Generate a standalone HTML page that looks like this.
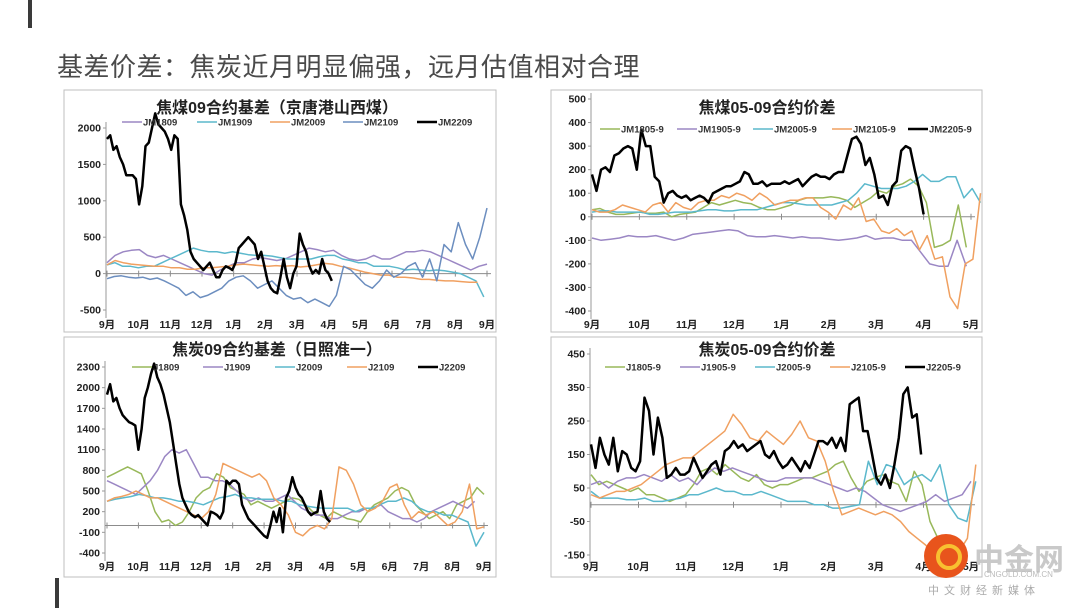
<!DOCTYPE html>
<html><head><meta charset="utf-8">
<style>
html,body{margin:0;padding:0;background:#fff;}
body{width:1080px;height:608px;position:relative;overflow:hidden;font-family:"Liberation Sans","Noto Sans CJK SC",sans-serif;}
#title{position:absolute;left:57px;top:47px;font-size:26px;color:#4a4a4a;letter-spacing:0.5px;white-space:nowrap;}
</style></head><body>
<div style="position:absolute;left:28px;top:0;width:4px;height:28px;background:#3a3a3a"></div>
<div style="position:absolute;left:55px;top:578px;width:4px;height:30px;background:#3a3a3a"></div>
<div id="title">基差价差：焦炭近月明显偏强，远月估值相对合理</div>
<svg id="svg" width="1080" height="608" style="position:absolute;left:0;top:0"></svg>
<div style="position:absolute;left:922px;top:532px;width:158px;height:76px;">
 <div style="position:absolute;left:2px;top:2px;width:44px;height:44px;border-radius:50%;background:#e8541c;"></div>
 <div style="position:absolute;left:14px;top:12px;width:18px;height:18px;border-radius:50%;border:4px solid #f8c030;"></div>
 <div style="position:absolute;left:52px;top:3px;font-size:30px;font-weight:bold;color:#c9c9c9;">中金网</div>
 <div style="position:absolute;left:62px;top:38px;font-size:8px;color:#bbb;">CNGOLD.COM.CN</div>
 <div style="position:absolute;left:6px;top:50px;font-size:11px;color:#aaa;letter-spacing:5px;">中文财经新媒体</div>
</div>
<script>
// ---- Chart 1 data: 焦煤09合约基差 ----
const c1Months=['9月','10月','11月','12月','1月','2月','3月','4月','5月','6月','7月','8月','9月'];
const c1Ticks=[-500,0,500,1000,1500,2000];
const c1Names=['JM1809','JM1909','JM2009','JM2109','JM2209'];
const c1Span=[[0,12],[0,11.9],[0,11.7],[0,12],[0,7.1]];
const c1JM1809=[150,250,300,320,330,250,220,250,200,150,100,50,0,-20,50,100,150,150,200,220,200,180,200,250,300,350,330,300,320,250,200,180,200,250,200,200,250,300,300,320,300,250,200,150,100,50,100,130];
const c1JM1909=[120,150,100,100,80,100,100,150,200,250,300,350,320,300,300,280,300,280,260,250,250,240,220,200,200,200,200,230,250,250,200,180,150,150,100,100,100,80,50,60,50,40,50,40,20,0,-50,-100,-320];
const c1JM2009=[120,180,150,130,120,110,100,100,80,80,60,60,80,80,90,100,120,130,120,110,100,110,100,110,90,100,120,140,130,100,80,50,20,0,-20,-20,-50,-50,-60,-80,-80,-90,-100,-100,-110,-120,-120];
const c1JM2109=[-70,-40,-30,-50,-60,-50,-80,-60,-100,-150,-200,-300,-250,-330,-300,-250,-200,-100,-50,-30,-100,-200,-150,-100,-200,-300,-350,-330,-400,-350,-400,-450,-300,100,50,-50,-150,-200,-100,50,-50,0,100,150,-50,200,-100,400,300,700,400,200,500,900];
const c1JM2209=[1850,1900,1700,1750,1600,1500,1350,1350,1350,1300,950,1200,1750,1800,2000,2200,2050,2000,1950,1850,1700,1900,1850,950,800,600,300,200,150,100,50,100,150,50,-50,-50,50,100,80,50,150,350,400,450,500,450,400,200,300,100,-100,-200,-250,-270,-50,200,-50,-200,0,100,550,400,300,100,0,50,0,200,50,0,-100];
// ---- Chart 2 data: 焦煤05-09合约价差 ----
const c2Months=['9月','10月','11月','12月','1月','2月','3月','4月','5月'];
const c2Ticks=[-400,-300,-200,-100,0,100,200,300,400,500];
const c2Names=['JM1805-9','JM1905-9','JM2005-9','JM2105-9','JM2205-9'];
const c2Span=[[0,7.9],[0,7.9],[0,8.2],[0,8.2],[0,7.0]];
const c2JM1805=[30,35,20,10,10,15,20,15,15,20,0,10,15,20,40,60,50,60,70,60,55,40,30,30,40,50,70,80,80,80,85,80,70,40,60,80,110,100,130,140,160,130,60,-130,-120,-100,50,-130];
const c2JM1905=[-90,-100,-95,-90,-80,-85,-85,-80,-90,-100,-90,-75,-70,-65,-60,-55,-60,-80,-85,-85,-80,-85,-90,-85,-90,-90,-95,-100,-95,-90,-80,-95,-90,-90,-100,-100,-150,-200,-210,-210,-100,-210];
const c2JM2005=[20,25,25,20,20,20,20,10,10,15,20,20,20,25,30,30,25,25,30,30,30,40,50,60,60,55,50,50,50,50,60,70,100,140,130,120,120,120,130,150,180,150,150,170,170,80,120,60];
const c2JM2105=[30,20,20,30,50,40,30,20,50,60,20,60,40,30,60,70,70,90,80,100,90,70,100,80,50,60,70,70,80,80,40,20,-10,50,30,80,-20,-10,-60,-70,-50,-80,-60,-140,-80,-180,-170,-340,-390,-200,-180,100];
const c2JM2205=[180,110,200,210,190,260,270,290,300,290,200,370,300,300,170,150,60,100,110,90,80,90,70,80,90,80,60,100,110,120,130,130,140,150,190,180,140,140,150,130,140,140,140,150,140,150,160,130,150,170,180,170,170,160,180,190,190,260,330,340,310,220,250,180,80,90,50,130,150,280,300,290,200,120,10];
// ---- Chart 3 data: 焦炭09合约基差 ----
const c3Months=c1Months;
const c3Ticks=[-400,-100,200,500,800,1100,1400,1700,2000,2300];
const c3Names=['J1809','J1909','J2009','J2109','J2209'];
const c3Span=[[0,12],[0,11.7],[0,12],[0,12],[0,7.1]];
const c3J1809=[700,750,800,850,800,750,500,200,50,80,0,50,200,400,500,550,750,700,550,500,450,300,350,300,250,300,350,400,380,300,200,150,100,200,150,100,80,50,200,300,350,400,500,550,500,300,200,100,150,200,100,300,350,400,550,450];
const c3J1909=[650,600,550,500,450,550,650,800,1000,1100,1050,1100,900,700,700,650,650,600,500,400,350,400,350,350,400,450,350,250,200,150,150,100,100,150,200,200,250,250,300,200,150,100,100,50,100,200,250,300,350,300,250,350];
const c3J2009=[350,380,400,420,450,430,400,400,380,350,350,330,300,350,400,420,450,400,400,380,380,380,350,350,300,280,260,250,250,250,250,200,250,250,300,350,350,400,350,250,200,200,150,150,100,50,-300,-100];
const c3J2109=[350,400,420,450,500,450,400,400,350,300,250,200,150,100,200,450,900,850,800,750,700,750,650,400,300,150,-100,-150,-50,0,-50,100,850,800,600,300,200,250,350,550,600,300,100,200,150,200,100,0,50,200,600,-50,-20];
const c3J2209=[1900,2050,1800,1850,1700,1600,1550,1500,1480,1450,1100,1400,1850,2000,2200,2350,2150,2050,1900,1700,1500,1200,900,600,400,300,200,150,120,150,100,50,0,200,180,150,100,200,650,600,650,650,600,300,200,100,50,0,-50,-100,-150,-180,0,200,50,250,-100,400,500,700,550,450,400,300,200,150,180,200,500,200,100,50];
// ---- Chart 4 data: 焦炭05-09合约价差 ----
const c4Months=c2Months;
const c4Ticks=[-150,-50,50,150,250,350,450];
const c4Names=['J1805-9','J1905-9','J2005-9','J2105-9','J2205-9'];
const c4Span=[[0,7.8],[0,8.0],[0,8.1],[0,8.1],[0,6.95]];
const c4J1805=[90,60,70,60,50,40,50,30,30,20,10,20,30,60,100,110,90,120,100,80,70,90,60,50,60,60,70,80,80,90,100,120,130,80,40,70,80,90,70,60,10,100,60,-50,-100,-120,-130,-150];
const c4J1905=[60,70,50,70,80,80,90,80,70,90,70,80,60,90,110,100,110,100,90,80,70,70,80,80,80,80,70,60,50,40,50,40,20,0,-10,-20,-10,0,10,30,10,20,30,70];
const c4J2005=[40,20,20,20,15,15,20,10,10,15,20,30,30,40,50,40,40,30,30,40,30,20,10,10,10,0,0,-10,-10,-5,0,130,60,120,110,60,80,90,70,120,0,-40,-50,70];
const c4J2105=[30,20,30,40,40,50,60,80,100,120,130,140,140,160,180,200,220,270,240,200,190,220,200,180,210,250,200,190,130,40,-30,-20,-10,-20,-30,-20,-30,-50,-80,-100,-120,-150,-130,-100,-140,-100,120];
const c4J2205=[180,110,200,150,120,200,100,160,150,110,100,130,320,280,150,260,200,80,90,110,90,90,100,140,110,80,100,120,130,90,160,170,190,170,180,160,170,180,190,150,140,160,130,110,120,140,120,100,130,110,150,190,190,180,200,170,200,160,300,310,320,220,220,150,80,60,90,50,120,200,330,350,260,270,150];

const NS='http://www.w3.org/2000/svg';
const svg=document.getElementById('svg');
function mk(tag,attrs,parent){const e=document.createElementNS(NS,tag);for(const k in attrs)e.setAttribute(k,attrs[k]);(parent||svg).appendChild(e);return e;}

function chart(cfg){
  const g=mk('g',{});
  
  
  const box=mk('rect',{x:cfg.box[0],y:cfg.box[1],width:cfg.box[2],height:cfg.box[3],fill:'#fff',stroke:'#bfbfbf','stroke-width':1},g);
  
  
  const yMin=cfg.ticks[0],yMax=cfg.ticks[cfg.ticks.length-1];
  const ys=v=>cfg.yTop+(yMax-v)/(yMax-yMin)*(cfg.yBot-cfg.yTop);
  const nM=cfg.months.length-1;
  const xs=m=>cfg.x0+m/nM*(cfg.x1-cfg.x0);
  const ya=mk('line',{x1:cfg.ax,y1:cfg.yTop-6,x2:cfg.ax,y2:cfg.yBot+8,stroke:'#9a9a9a','stroke-width':1},g);
  
  
  cfg.ticks.forEach(t=>{
    mk('line',{x1:cfg.ax-3,y1:ys(t),x2:cfg.ax,y2:ys(t),stroke:'#9a9a9a'},g);
    const tx=mk('text',{x:cfg.ax-5,y:ys(t)+3.5,'text-anchor':'end','font-size':10.5,'font-weight':'bold',fill:'#222'},g);
    tx.textContent=t;
    
    
  });
  const z=mk('line',{x1:cfg.ax,y1:ys(0),x2:cfg.x1+4,y2:ys(0),stroke:'#8c8c8c','stroke-width':1},g);
  
  
  cfg.months.forEach((m,i)=>{
    mk('line',{x1:xs(i),y1:ys(0)-3,x2:xs(i),y2:ys(0)+3,stroke:'#8c8c8c'},g);
    const tx=mk('text',{x:xs(i),y:cfg.labY,'text-anchor':'middle','font-size':10.5,'font-weight':'bold',fill:'#222'},g);
    tx.textContent=m;
    
    
  });
  cfg.series.forEach((s,i)=>{
    const sp=cfg.spans[i];
    const pts=s.map((v,j)=>xs(sp[0]+j/(s.length-1)*(sp[1]-sp[0])).toFixed(1)+','+ys(v).toFixed(1)).join(' ');
    const black=i===4;
    const pl=mk('polyline',{points:pts,fill:'none',stroke:cfg.colors[i],'stroke-width':black?2.5:1.5,'stroke-linejoin':'round'},g);
    
    
  });
  const tt=mk('text',{x:cfg.titleX,y:cfg.titleY,'text-anchor':'middle','font-size':16,'font-weight':'bold',fill:'#222'},g);
  tt.textContent=cfg.title;
  
  
  cfg.names.forEach((n,i)=>{
    const lx=cfg.legX[i];
    const lg=mk('g',{},g);
    
    
    mk('line',{x1:lx,y1:cfg.legY,x2:lx+20,y2:cfg.legY,stroke:cfg.colors[i],'stroke-width':i===4?2.5:1.5},lg);
    const t=mk('text',{x:lx+21,y:cfg.legY+3.5,'font-size':9.5,'font-weight':'bold',fill:'#333'},lg);
    t.textContent=n;
  });
}
const colA=['#9b87c4','#5bb8cc','#f0a060','#6c8ebf','#000'];
const colB=['#98b85a','#9b87c4','#5bb8cc','#f0a060','#000'];
chart({id:'chart-coking-coal-basis',box:[64,90,432,242],ticks:c1Ticks,yTop:128,yBot:310,ax:106,x0:107,x1:487,months:c1Months,labY:328,
  series:[c1JM1809,c1JM1909,c1JM2009,c1JM2109,c1JM2209],spans:c1Span,names:c1Names,colors:colA,
  title:'焦煤09合约基差（京唐港山西煤）',titleX:277,titleY:113,legY:122,legX:[122,197,270,343,417]});
chart({id:'chart-coking-coal-spread',box:[551,90,431,242],ticks:c2Ticks,yTop:99,yBot:311,ax:591,x0:592,x1:971,months:c2Months,labY:328,
  series:[c2JM1805,c2JM1905,c2JM2005,c2JM2105,c2JM2205],spans:c2Span,names:c2Names,colors:colB,
  title:'焦煤05-09合约价差',titleX:767,titleY:113,legY:129,legX:[600,677,753,832,908]});
chart({id:'chart-coke-basis',box:[64,337,432,240],ticks:c3Ticks,yTop:367,yBot:553,ax:105,x0:107,x1:484,months:c3Months,labY:570,
  series:[c3J1809,c3J1909,c3J2009,c3J2109,c3J2209],spans:c3Span,names:c3Names,colors:colB,
  title:'焦炭09合约基差（日照准一）',titleX:277,titleY:355,legY:367,legX:[132,203,275,347,418]});
chart({id:'chart-coke-spread',box:[551,337,431,240],ticks:c4Ticks,yTop:354,yBot:555,ax:590,x0:591,x1:971,months:c4Months,labY:570,
  series:[c4J1805,c4J1905,c4J2005,c4J2105,c4J2205],spans:c4Span,names:c4Names,colors:colB,
  title:'焦炭05-09合约价差',titleX:767,titleY:355,legY:367,legX:[605,680,755,830,905]});
</script>
</body></html>
